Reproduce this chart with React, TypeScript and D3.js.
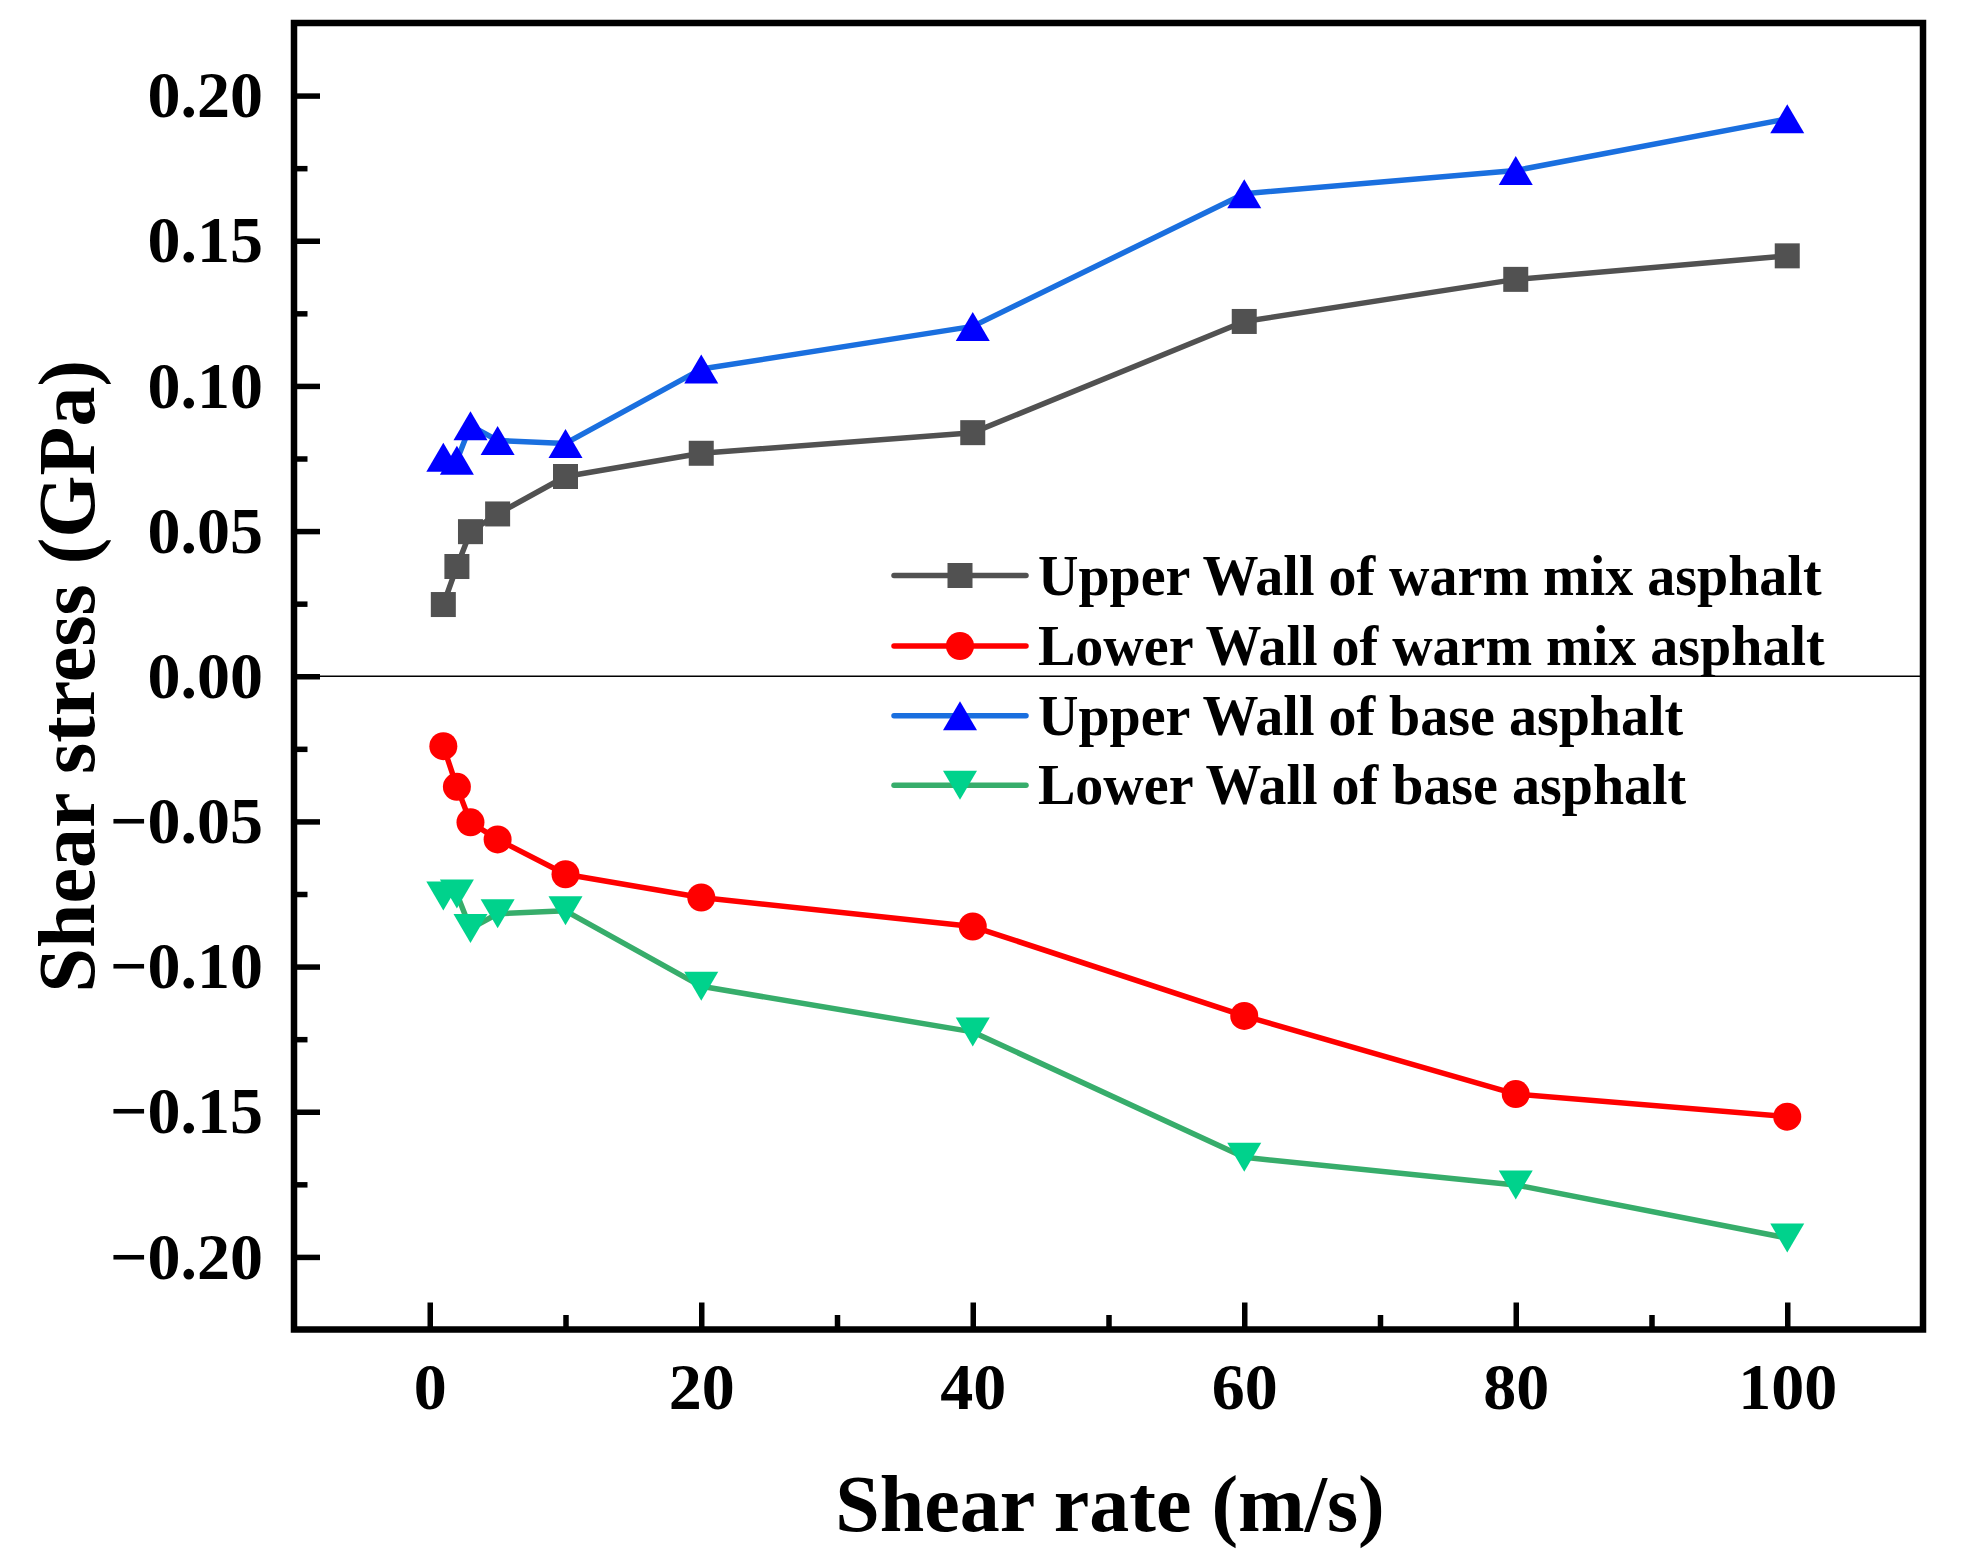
import * as d3 from 'd3';
import { useEffect, useRef } from 'react';

const shearRates = [1, 2, 3, 5, 10, 20, 40, 60, 80, 100];
const upperWarm = [0.0247, 0.0378, 0.0498, 0.0559, 0.0688, 0.0768, 0.0839, 0.1222, 0.1367, 0.1448];
const lowerWarm = [-0.0241, -0.0381, -0.0503, -0.0562, -0.0682, -0.0762, -0.0862, -0.117, -0.1439, -0.1517];
const upperBase = [0.0754, 0.0744, 0.0863, 0.0812, 0.0802, 0.1058, 0.1205, 0.1662, 0.1742, 0.192];
const lowerBase = [-0.0757, -0.075, -0.0869, -0.0818, -0.0808, -0.1068, -0.1225, -0.1657, -0.1752, -0.1935];

const xMajorTicks = [0, 20, 40, 60, 80, 100];
const xMinorTicks = [10, 30, 50, 70, 90];
const yMajorTicks = [-0.2, -0.15, -0.1, -0.05, 0, 0.05, 0.1, 0.15, 0.2];
const yMinorTicks = [-0.175, -0.125, -0.075, -0.025, 0.025, 0.075, 0.125, 0.175];

const seriesNames = [
  'Upper Wall of warm mix asphalt',
  'Lower Wall of warm mix asphalt',
  'Upper Wall of base asphalt',
  'Lower Wall of base asphalt',
];

const FONT = "'Times New Roman', 'Liberation Serif', serif";

type Series = {
  name: string;
  values: number[];
  line: string;
  fill: string;
  symbol: 'square' | 'circle' | 'up' | 'down';
};

const series: Series[] = [
  { name: seriesNames[0], values: upperWarm, line: '#515151', fill: '#515151', symbol: 'square' },
  { name: seriesNames[1], values: lowerWarm, line: '#ff0000', fill: '#ff0000', symbol: 'circle' },
  { name: seriesNames[2], values: upperBase, line: '#1a6fdf', fill: '#0000ff', symbol: 'up' },
  { name: seriesNames[3], values: lowerBase, line: '#37ad6b', fill: '#00d28c', symbol: 'down' },
];

function drawSymbol(g: d3.Selection<SVGGElement, unknown, null, undefined>, s: Series, cx: number, cy: number) {
  if (s.symbol === 'square') {
    g.append('rect')
      .attr('x', cx - 12.5)
      .attr('y', cy - 12.5)
      .attr('width', 25)
      .attr('height', 25)
      .attr('fill', s.fill);
  } else if (s.symbol === 'circle') {
    g.append('circle').attr('cx', cx).attr('cy', cy).attr('r', 14).attr('fill', s.fill);
  } else {
    const w = 17;
    const h = 14.5;
    const dir = s.symbol === 'up' ? 1 : -1;
    g.append('path')
      .attr('d', `M${cx},${cy - dir * h}L${cx + w},${cy + dir * h}L${cx - w},${cy + dir * h}Z`)
      .attr('fill', s.fill);
  }
}

export default function App() {
  const svgRef = useRef<SVGSVGElement>(null);

  useEffect(() => {
    if (!svgRef.current) return;
    const svg = d3.select(svgRef.current);
    svg.selectAll('*').remove();

    const left = 294;
    const right = 1923;
    const top = 23;
    const bottom = 1329.5;

    const x = d3.scaleLinear().domain([-10, 110]).range([left, right]);
    const y = d3.scaleLinear().domain([-0.225, 0.225]).range([bottom, top]);

    // zero line
    svg
      .append('line')
      .attr('x1', left)
      .attr('x2', right)
      .attr('y1', y(0))
      .attr('y2', y(0))
      .attr('stroke', '#000')
      .attr('stroke-width', 1.5);

    // Y axis, ticks pointing inward
    const yAxis = svg
      .append('g')
      .attr('transform', `translate(${left},0)`)
      .call(
        d3
          .axisLeft(y)
          .tickValues(yMajorTicks)
          .tickSize(-26)
          .tickSizeOuter(0)
          .tickPadding(31)
          .tickFormat((d) => d3.format('.2f')(d as number)),
      );
    svg
      .append('g')
      .attr('transform', `translate(${left},0)`)
      .call(d3.axisLeft(y).tickValues(yMinorTicks).tickSize(-13.5).tickSizeOuter(0).tickFormat(() => ''));

    // X axis
    const xAxis = svg
      .append('g')
      .attr('transform', `translate(0,${bottom})`)
      .call(d3.axisBottom(x).tickValues(xMajorTicks).tickSize(-27).tickSizeOuter(0).tickPadding(33));
    svg
      .append('g')
      .attr('transform', `translate(0,${bottom})`)
      .call(d3.axisBottom(x).tickValues(xMinorTicks).tickSize(-14.5).tickSizeOuter(0).tickFormat(() => ''));

    svg.selectAll('.domain').remove();
    svg.selectAll('.tick line').attr('stroke', '#000').attr('stroke-width', 5.5);
    [xAxis, yAxis].forEach((a) =>
      a
        .selectAll('text')
        .attr('fill', '#000')
        .style('font-family', FONT)
        .style('font-weight', 'bold')
        .style('font-size', '66px'),
    );

    // Frame
    svg
      .append('rect')
      .attr('x', left)
      .attr('y', top)
      .attr('width', right - left)
      .attr('height', bottom - top)
      .attr('fill', 'none')
      .attr('stroke', '#000')
      .attr('stroke-width', 6.5);

    // Axis labels
    svg
      .append('text')
      .attr('x', 1110)
      .attr('y', 1531)
      .attr('text-anchor', 'middle')
      .style('font-family', FONT)
      .style('font-weight', 'bold')
      .style('font-size', '80px')
      .text('Shear rate (m/s)');

    svg
      .append('text')
      .attr('transform', `translate(94,${(top + bottom) / 2})rotate(-90)`)
      .attr('text-anchor', 'middle')
      .style('font-family', FONT)
      .style('font-weight', 'bold')
      .style('font-size', '80px')
      .text('Shear stress (GPa)');

    // Lines and markers
    const line = d3
      .line<number>()
      .x((_, i) => x(shearRates[i]))
      .y((d) => y(d));

    series.forEach((s) => {
      svg
        .append('path')
        .datum(s.values)
        .attr('fill', 'none')
        .attr('stroke', s.line)
        .attr('stroke-width', 5.5)
        .attr('stroke-linejoin', 'round')
        .attr('d', line);
    });
    series.forEach((s) => {
      const g = svg.append('g');
      s.values.forEach((v, i) => drawSymbol(g, s, x(shearRates[i]), y(v)));
    });

    // Legend
    const legendY = [575.5, 646, 715.7, 785.3];
    series.forEach((s, i) => {
      const g = svg.append('g');
      g.append('line')
        .attr('x1', 894)
        .attr('x2', 1026)
        .attr('y1', legendY[i])
        .attr('y2', legendY[i])
        .attr('stroke', s.line)
        .attr('stroke-width', 5.5)
        .attr('stroke-linecap', 'round');
      drawSymbol(g, s, 960, legendY[i]);
      g.append('text')
        .attr('x', 1038)
        .attr('y', legendY[i] + 19)
        .style('font-family', FONT)
        .style('font-weight', 'bold')
        .style('font-size', '56px')
        .text(s.name);
    });
  }, []);

  return (
    <svg
      ref={svgRef}
      width={1975}
      height={1557}
      style={{ position: 'absolute', left: 0, top: 0, background: '#fff' }}
    />
  );
}
